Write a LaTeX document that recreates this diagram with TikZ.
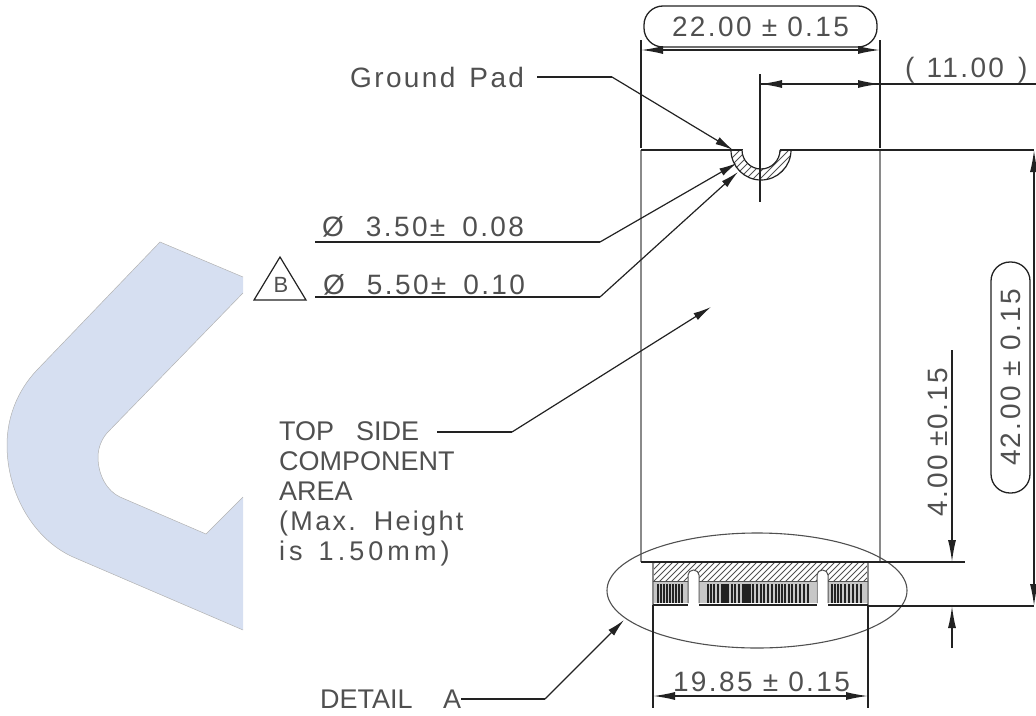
\documentclass[tikz,border=0pt]{standalone}
\usepackage{fontspec}
\setmainfont{Liberation Sans}
\newfontfamily\cadfont[LetterSpace=8.5]{Liberation Sans}
\newfontfamily\cadwide[LetterSpace=15]{Liberation Sans}
\newfontfamily\cadplain{Liberation Sans}
\usetikzlibrary{arrows.meta,shapes.geometric}
\definecolor{inkline}{HTML}{222222}
\definecolor{inktext}{HTML}{505050}
\definecolor{sideline}{HTML}{8A8A8A}
\definecolor{blueband}{HTML}{D6DFF1}
\tikzset{
  cad/.style={font=\cadfont\fontsize{28}{30}\selectfont,text=inktext,inner sep=0pt},
  capsfont/.style={font=\cadplain\fontsize{27}{30}\selectfont},
  dimline/.style={draw=inkline,line width=1.4pt},
  thinline/.style={draw=inkline,line width=1.2pt},
  sidestroke/.style={draw=sideline,line width=1.3pt},
  tip/.style={-{Latex[length=22pt,width=8pt]}},
  bothtip/.style={{Latex[length=22pt,width=8pt]}-{Latex[length=22pt,width=8pt]}},
  shorttip/.style={-{Latex[length=18pt,width=8pt]}},
  pill/.style={draw=inkline,line width=1.3pt,rounded corners=19pt,inner sep=0pt},
  hatchline/.style={draw=inktext,line width=.8pt},
  stripe/.style={draw=inkline,line width=1.3pt},
  fingerbox/.style={fill=black!22},
}
\begin{document}
\begin{tikzpicture}[x=1pt,y=-1pt]
\useasboundingbox (0,0) rectangle (1036,715);
% background band
\path[fill=blueband] (160,242) -- (243,277) -- (243,293) -- (107,433)
  .. controls (101,440) and (98,449) .. (98,457)
  .. controls (98,475) and (107,491) .. (120,497)
  -- (206,534) -- (243,497) -- (243,630) -- (73,557)
  .. controls (35,540) and (7,495) .. (7,445)
  .. controls (7,418) and (17,391) .. (37,370) -- cycle;
\draw[draw=black!30,line width=.5pt] (243,277) -- (160,242) -- (37,370)
  .. controls (17,391) and (7,418) .. (7,445)
  .. controls (7,495) and (35,540) .. (73,557) -- (243,630);
\draw[draw=black!30,line width=.5pt] (243,293) -- (107,433)
  .. controls (101,440) and (98,449) .. (98,457)
  .. controls (98,475) and (107,491) .. (120,497)
  -- (206,534) -- (243,497);

% coordinates
\coordinate (tl) at (641,150);
\coordinate (tr) at (880,150);
\coordinate (bl) at (641,562);
\coordinate (br) at (880,562);
\coordinate (padtip) at (733,150);
\coordinate (d35tip) at (737,163);
\coordinate (d55tip) at (738,172);
\coordinate (toptip) at (711,307);
\coordinate (dettip) at (624,620);

% module outline
\draw[sidestroke] (tl) -- (bl);
\draw[sidestroke] (tr) -- (br);
\draw[dimline] (tl) -- (743,150);
\draw[dimline] (780,150) -- (1034,150);

% mounting notch
\begin{scope}
  \clip (731,150) arc[start angle=180,end angle=0,radius=30] -- cycle;
  \foreach \k in {0,7,...,98} {
    \draw[hatchline] (700+\k,190) -- ++(45,-45);
  }
  \fill[white] (742,150) arc[start angle=180,end angle=0,radius=19] -- cycle;
\end{scope}
\draw[thinline] (731,150) arc[start angle=180,end angle=0,radius=30];
\draw[thinline] (742,150) arc[start angle=180,end angle=0,radius=19];
\draw[thinline] (731,150) -- (742,150) (780,150) -- (791,150);

% 22.00 dimension
\node[pill,cad,minimum width=233pt,minimum height=41pt] (w22) at (760.5,26.5) {22.00 ± 0.15};
\coordinate (e1a) at (641,40); \coordinate (e1b) at (641,148);
\coordinate (e2a) at (880,40); \coordinate (e2b) at (880,148);
\draw[dimline] (e1a) -- (e1b);
\draw[dimline] (e2a) -- (e2b);
\draw[dimline,bothtip] (e1a |- 0,50) -- (e2a |- 0,50);

% 11.00 dimension
\node[cad,anchor=west] (w11) at (905,70) {(\hspace{12pt}11.00\hspace{14pt})};
\coordinate (e3a) at (760,74); \coordinate (e3b) at (760,202);
\draw[dimline] (e3a) -- (e3b);
\draw[dimline,tip] (880,84) -- (760,84);
\draw[dimline,tip] (760,84) -- (880,84);
\draw[dimline] (880,84) -- (1036,84);

% Ground Pad
\node[cad,anchor=west] (gp) at (350,77) {Ground\hspace{14pt}Pad};
\coordinate (gpk) at (612,77);
\draw[thinline] (537,77) -- (gpk);
\draw[thinline,shorttip] (gpk) -- (padtip);

% diameters
\node[cad,anchor=west] (d35) at (322,227) {Ø\hspace{22pt}3.50±\hspace{17pt}0.08};
\node[cad,anchor=west] (d55) at (323,285) {Ø\hspace{22pt}5.50±\hspace{17pt}0.10};
\coordinate (d35a) at (315,242); \coordinate (d35k) at (600,242);
\coordinate (d55a) at (315,297); \coordinate (d55k) at (600,297);
\draw[thinline] (d35a) -- (d35k);
\draw[thinline,shorttip] (d35k) -- (d35tip);
\draw[thinline] (d55a) -- (d55k);
\draw[thinline,shorttip] (d55k) -- (d55tip);

% datum B
\coordinate (ta) at (280,257); \coordinate (tb) at (254,300); \coordinate (tc) at (306,300);
\draw[thinline] (ta) -- (tb) -- (tc) -- cycle;
\node[cad,font=\cadfont\fontsize{22}{22}\selectfont] (datum) at (281,285) {B};

% top side label
\node[cad,capsfont,anchor=north west,align=left] (tsl) at (279,421) {TOP\hspace{22pt}SIDE\\COMPONENT\\AREA\\{\cadfont(Max.\hspace{18pt}Height}\\{\cadwide is\hspace{16pt}1.50mm)}};
\coordinate (tsa) at (437,432); \coordinate (tsk) at (512,432);
\draw[thinline] (tsa) -- (tsk);
\draw[thinline,shorttip] (tsk) -- (toptip);

% connector edge: hatched band
\begin{scope}
  \clip (652,562) rectangle (868,581);
  \foreach \k in {0,6,...,240} {
    \draw[hatchline] (632+\k,585) -- ++(26,-26);
  }
\end{scope}
% contact fingers
\fill[fingerbox] (654,581) rectangle (688,603);
\fill[fingerbox] (700,581) rectangle (816,603);
\fill[fingerbox] (828,581) rectangle (868,603);
\foreach \x in {658,661,664,667,670,673,676,679,682} {
  \draw[stripe] (\x,584) -- (\x,603);
}
\foreach \x in {708,711,714,718,722,725,728,732,735,739,743,747,750,753,757,761,764,768,772,776,779,782,785,789,792,796,800,804,808} {
  \draw[stripe] (\x,584) -- (\x,603);
}
\fill[inkline] (722,584) rectangle (728,603);
\fill[inkline] (744,584) rectangle (751,603);
\foreach \x in {832,835,838,841,845,849,853,857,861} {
  \draw[stripe] (\x,584) -- (\x,603);
}
% notches between the fingers
\fill[white] (688,605) -- (688,575) arc[start angle=180,end angle=360,x radius=5.5,y radius=5] -- (699,605) -- cycle;
\fill[white] (817,605) -- (817,575) arc[start angle=180,end angle=360,x radius=5.5,y radius=5] -- (828,605) -- cycle;
\draw[draw=inktext,line width=1pt] (688,603) -- (688,575) arc[start angle=180,end angle=360,x radius=5.5,y radius=5] -- (699,603);
\draw[draw=inktext,line width=1pt] (817,603) -- (817,575) arc[start angle=180,end angle=360,x radius=5.5,y radius=5] -- (828,603);
\draw[sidestroke] (653,562) -- (653,605);
\draw[sidestroke] (868,562) -- (868,605);
\draw[draw=inktext,line width=1pt] (653,581) -- (688,581) (699,581) -- (817,581) (828,581) -- (868,581);
\draw[dimline,line width=1.5pt] (653,605) -- (688,605) (699,605) -- (817,605) (828,605) -- (868,605);

% detail ellipse
\node[draw=inktext,line width=1.1pt,ellipse,inner sep=0pt,minimum width=300pt,minimum height=115pt] (detail) at (757,590.5) {};

% bottom reference lines
\coordinate (r4a) at (965,562);
\coordinate (r4b) at (1034,606);
\draw[dimline] (641,562) -- (r4a);
\draw[dimline] (868,606) -- (r4b);

% 42.00 dimension
\node[pill,cad,rotate=90,minimum width=231pt,minimum height=39pt] (h42) at (1010.5,377.5) {42.00 ± 0.15};
\coordinate (r42t) at (1034,150);
\draw[dimline,bothtip] (r42t) -- (r4b);

% 4.00 dimension
\node[cad,rotate=90] (h4) at (938,442) {4.00\hspace{8pt}±0.15};
\coordinate (v4a) at (952,350);
\coordinate (v4b) at (952,648);
\draw[dimline,tip] (v4a) -- (v4a |- r4a);
\draw[dimline,tip] (v4b) -- (v4b |- r4b);

% 19.85 dimension
\node[cad] (w19) at (761.5,682) {19.85 ± 0.15};
\coordinate (e4a) at (653,605); \coordinate (e4b) at (653,708);
\coordinate (e5a) at (868,605); \coordinate (e5b) at (868,708);
\draw[dimline] (e4a) -- (e4b);
\draw[dimline] (e5a) -- (e5b);
\draw[dimline,bothtip] (e4a |- 0,696) -- (e5a |- 0,696);

% DETAIL A
\node[cad,capsfont,anchor=west] (dt) at (320,699) {DETAIL};
\node[cad,capsfont,anchor=west] (dta) at (443,699) {A};
\coordinate (dk) at (545,699);
\draw[thinline] (dta.east) -- (dk);
\draw[thinline,shorttip] (dk) -- (dettip);
\end{tikzpicture}
\end{document}
